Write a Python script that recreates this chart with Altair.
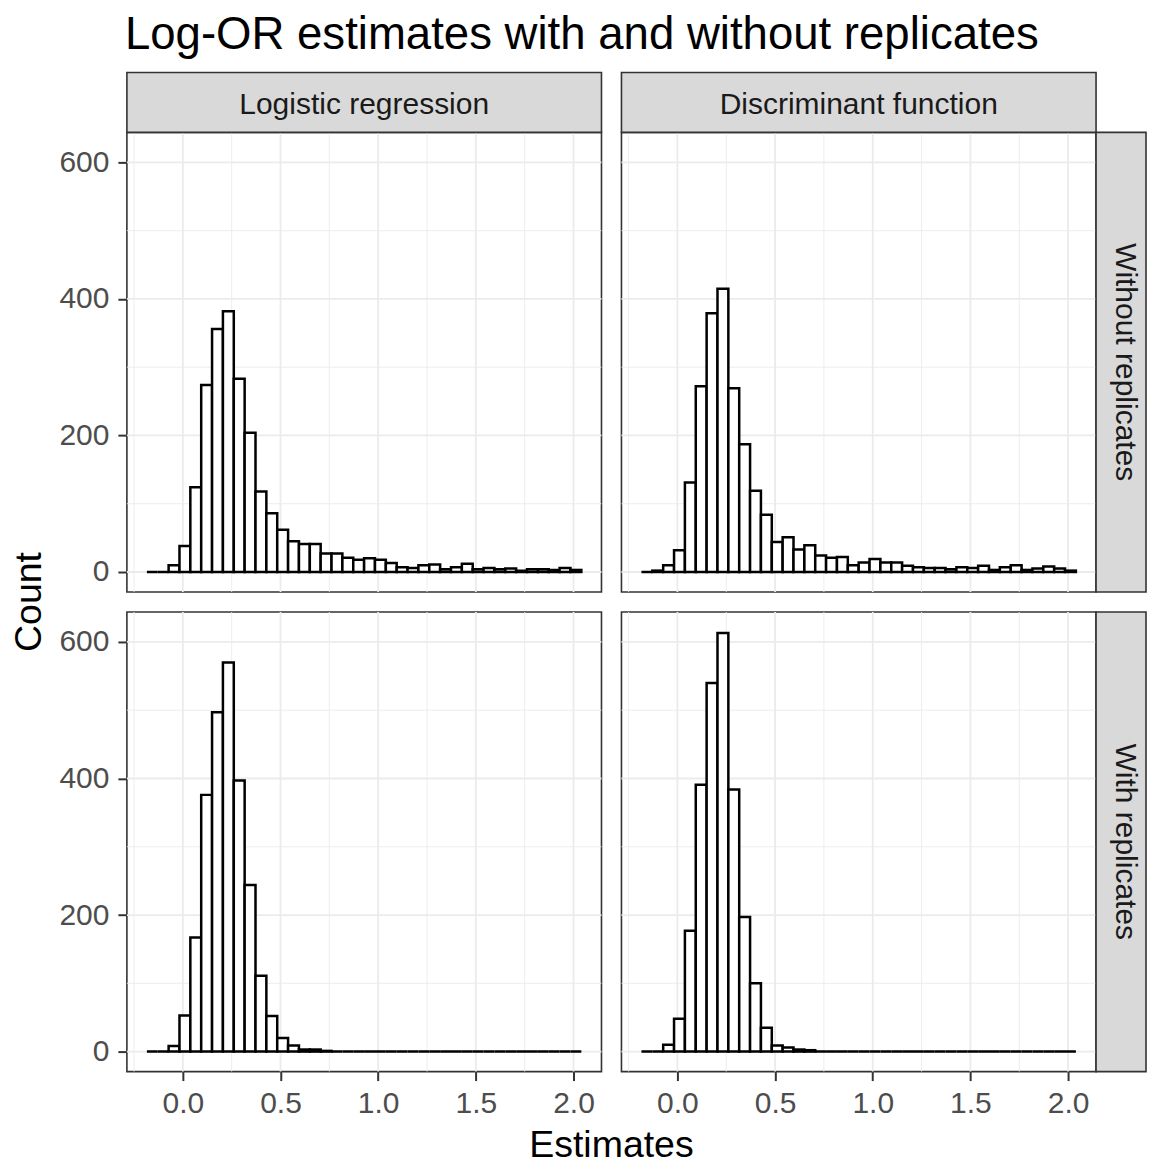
import altair as alt
import pandas as pd

# ---------------- data ----------------
TITLE = "Log-OR estimates with and without replicates"
COL_LABELS = ["Logistic regression", "Discriminant function"]
ROW_LABELS = ["Without replicates", "With replicates"]
X_TITLE = "Estimates"
Y_TITLE = "Count"

BIN_START = -0.184
BIN_WIDTH = 0.0556
N_BINS = 40

counts_without_lr = [0, 0, 10, 38, 124, 274, 356, 382, 283, 204,
                     118, 86, 62, 45, 41, 41, 27, 27, 21, 18,
                     20, 18, 13, 7, 6, 10, 11, 4, 7, 12,
                     4, 6, 4, 5, 2, 4, 4, 3, 6, 3]
counts_without_df = [0, 2, 10, 32, 131, 272, 379, 415, 269, 187,
                     119, 84, 44, 51, 33, 39, 24, 21, 22, 10,
                     14, 19, 14, 14, 9, 7, 6, 6, 4, 7,
                     6, 9, 3, 7, 10, 3, 5, 8, 5, 2]
counts_with_lr = [0, 0, 8, 53, 167, 376, 497, 570, 397, 244,
                  111, 52, 20, 9, 3, 3, 1, 0, 0, 0,
                  0, 0, 0, 0, 0, 0, 0, 0, 0, 0,
                  0, 0, 0, 0, 0, 0, 0, 0, 0, 0]
counts_with_df = [0, 0, 10, 48, 177, 391, 540, 613, 384, 197,
                  100, 35, 9, 6, 3, 2, 0, 0, 0, 0,
                  0, 0, 0, 0, 0, 0, 0, 0, 0, 0,
                  0, 0, 0, 0, 0, 0, 0, 0, 0, 0]

X_MAJOR = [0.0, 0.5, 1.0, 1.5, 2.0]
X_MINOR = [-0.25, 0.25, 0.75, 1.25, 1.75]
Y_MAJOR = [0, 200, 400, 600]
Y_MINOR = [100, 300, 500]

X_DOMAIN = [-0.2864, 2.1432]
Y_DOMAIN = [-29.3, 643.9]

# ---------------- style ----------------
FONT = "Liberation Sans"
W, H = 475, 460
STRIP_H = 60
STRIP_W = 50
GRID = "#EBEBEB"
DARK = "#333333"


def panel(counts, col_label, row_label=None, show_x=False, show_y=False,
          add_title=False, add_ytitle=False, add_xtitle=False):
    edges = [BIN_START + i * BIN_WIDTH for i in range(N_BINS + 1)]
    df = pd.DataFrame({"x0": edges[:-1], "x1": edges[1:],
                       "count": counts, "base": [0] * N_BINS})
    xs = alt.Scale(domain=X_DOMAIN, nice=False, zero=False)
    ys = alt.Scale(domain=Y_DOMAIN, nice=False, zero=False)
    if show_x:
        xaxis = alt.Axis(values=X_MAJOR, format=".1f", title=None, grid=False,
                         domain=False, labelFontSize=30, labelColor="#4D4D4D",
                         labelFont=FONT, tickColor=DARK, tickWidth=2,
                         tickSize=9, labelPadding=8, labelFlush=False)
    else:
        xaxis = None
    if show_y:
        yaxis = alt.Axis(values=Y_MAJOR, title=None, grid=False, domain=False,
                         labelFontSize=30, labelColor="#4D4D4D", labelFont=FONT,
                         tickColor=DARK, tickWidth=2, tickSize=9,
                         labelPadding=9, labelFlush=False)
    else:
        yaxis = None

    layers = []
    layers.append(alt.Chart(pd.DataFrame({"v": X_MINOR})).mark_rule(
        color=GRID, strokeWidth=0.9).encode(
        x=alt.X("v:Q", scale=xs, axis=xaxis)))
    layers.append(alt.Chart(pd.DataFrame({"v": X_MAJOR})).mark_rule(
        color=GRID, strokeWidth=1.8).encode(
        x=alt.X("v:Q", scale=xs, axis=xaxis)))
    layers.append(alt.Chart(pd.DataFrame({"v": Y_MINOR})).mark_rule(
        color=GRID, strokeWidth=0.9).encode(
        y=alt.Y("v:Q", scale=ys, axis=yaxis)))
    layers.append(alt.Chart(pd.DataFrame({"v": Y_MAJOR})).mark_rule(
        color=GRID, strokeWidth=1.8).encode(
        y=alt.Y("v:Q", scale=ys, axis=yaxis)))
    layers.append(alt.Chart(df).mark_rect(
        fill="white", stroke="black", strokeWidth=2.5).encode(
        x=alt.X("x0:Q", scale=xs, axis=xaxis),
        x2="x1:Q",
        y=alt.Y("count:Q", scale=ys, axis=yaxis),
        y2="base:Q"))

    if col_label is not None:
        lab = pd.DataFrame({"label": [col_label]})
        layers.append(alt.Chart(lab).mark_rect(
            fill="#D9D9D9", stroke=DARK, strokeWidth=1.6).encode(
            x=alt.value(0), x2=alt.value(W),
            y=alt.value(-STRIP_H), y2=alt.value(0)))
        layers.append(alt.Chart(lab).mark_text(
            font=FONT, fontSize=30, color="#1A1A1A", baseline="middle",
            align="center").encode(
            x=alt.value(W / 2), y=alt.value(-STRIP_H / 2 + 3), text="label:N"))
    if row_label is not None:
        lab = pd.DataFrame({"label": [row_label]})
        layers.append(alt.Chart(lab).mark_rect(
            fill="#D9D9D9", stroke=DARK, strokeWidth=1.6).encode(
            x=alt.value(W), x2=alt.value(W + STRIP_W),
            y=alt.value(0), y2=alt.value(H)))
        layers.append(alt.Chart(lab).mark_text(
            font=FONT, fontSize=30, color="#1A1A1A", baseline="middle",
            align="center", angle=90).encode(
            x=alt.value(W + STRIP_W / 2 + 4), y=alt.value(H / 2),
            text="label:N"))
    if add_title:
        t = pd.DataFrame({"t": [TITLE]})
        layers.append(alt.Chart(t).mark_text(
            font=FONT, fontSize=45.6, color="black", baseline="alphabetic",
            align="left").encode(
            x=alt.value(-2), y=alt.value(-83), text="t:N"))
    if add_ytitle:
        t = pd.DataFrame({"t": [Y_TITLE]})
        layers.append(alt.Chart(t).mark_text(
            font=FONT, fontSize=37.5, color="black", baseline="middle",
            align="center", angle=270).encode(
            x=alt.value(-97), y=alt.value(H + 10), text="t:N"))
    if add_xtitle:
        t = pd.DataFrame({"t": [X_TITLE]})
        layers.append(alt.Chart(t).mark_text(
            font=FONT, fontSize=37.5, color="black", baseline="alphabetic",
            align="center").encode(
            x=alt.value(W + 10), y=alt.value(H + 85), text="t:N"))
    return alt.layer(*layers).properties(width=W, height=H)


tl = panel(counts_without_lr, COL_LABELS[0], None, show_x=False, show_y=True,
           add_title=True, add_ytitle=True)
tr = panel(counts_without_df, COL_LABELS[1], ROW_LABELS[0], show_x=False,
           show_y=False)
bl = panel(counts_with_lr, None, None, show_x=True, show_y=True,
           add_xtitle=True)
br = panel(counts_with_df, None, ROW_LABELS[1], show_x=True, show_y=False)

chart = alt.concat(tl, tr, bl, br, columns=2, spacing=20, bounds="flush").properties(
    padding={"left": 2, "top": 4, "right": 0, "bottom": 2}
).configure(font=FONT).configure_view(stroke=DARK, strokeWidth=1.6)

chart.save("out.html", embed_options={"renderer": "svg", "actions": False})
